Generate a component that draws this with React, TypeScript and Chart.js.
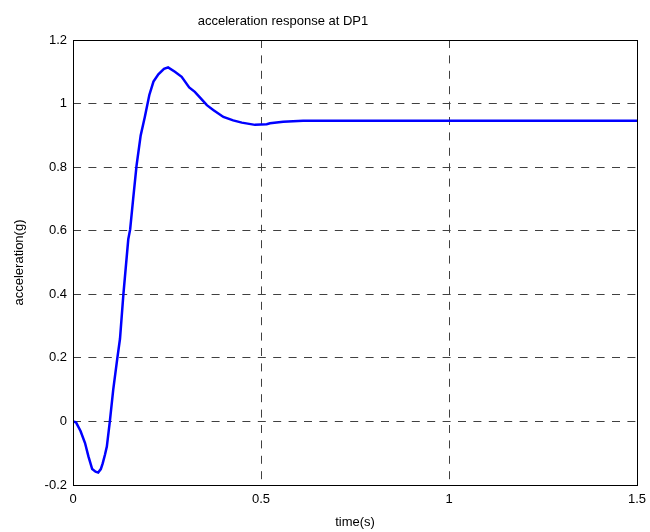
import React, { useEffect, useRef } from "react";
import { Chart, registerables } from "chart.js";

Chart.register(...registerables);

const chartTitle = "acceleration response at DP1";
const xAxisTitle = "time(s)";
const yAxisTitle = "acceleration(g)";

const timeValues = [
  0, 0.008, 0.02, 0.032, 0.041, 0.051, 0.06, 0.067, 0.074, 0.079, 0.085, 0.09,
  0.098, 0.107, 0.118, 0.125, 0.134, 0.147, 0.152, 0.16, 0.169, 0.18, 0.191,
  0.203, 0.214, 0.227, 0.242, 0.253, 0.271, 0.289, 0.309, 0.324, 0.338, 0.356,
  0.373, 0.4, 0.426, 0.449, 0.484, 0.515, 0.524, 0.559, 0.612, 0.7, 0.9, 1.1,
  1.3, 1.5,
];
const accelValues = [
  0, -0.003, -0.03, -0.068, -0.11, -0.15, -0.158, -0.161, -0.15, -0.132,
  -0.105, -0.079, 0, 0.1, 0.2, 0.26, 0.4, 0.573, 0.604, 0.7, 0.805, 0.9,
  0.958, 1.027, 1.069, 1.092, 1.109, 1.114, 1.1, 1.084, 1.051, 1.037, 1.019,
  0.995, 0.98, 0.958, 0.947, 0.94, 0.933, 0.935, 0.938, 0.943, 0.946, 0.946,
  0.946, 0.946, 0.946, 0.946,
];

const xTicks = [0, 0.5, 1, 1.5];
const yTicks = [-0.2, 0, 0.2, 0.4, 0.6, 0.8, 1, 1.2];

const FONT = "Arial, 'Liberation Sans', sans-serif";

export default function App() {
  const canvasRef = useRef<HTMLCanvasElement | null>(null);

  useEffect(() => {
    const canvas = canvasRef.current;
    if (!canvas) return;

    const framePlugin = {
      id: "frameAndTitle",
      afterDraw(chart: any) {
        const { ctx, chartArea } = chart;
        ctx.save();
        ctx.strokeStyle = "#000";
        ctx.lineWidth = 1;
        ctx.setLineDash([]);
        ctx.strokeRect(
          Math.round(chartArea.left) + 0.5,
          Math.round(chartArea.top) + 0.5,
          Math.round(chartArea.right - chartArea.left),
          Math.round(chartArea.bottom - chartArea.top)
        );
        ctx.fillStyle = "#000";
        ctx.font = `13px ${FONT}`;
        ctx.textAlign = "center";
        ctx.textBaseline = "middle";
        ctx.fillText(chartTitle, 283, 21);
        ctx.restore();
      },
    };

    const chart = new Chart(canvas, {
      type: "line",
      data: {
        datasets: [
          {
            data: timeValues.map((t, i) => ({ x: t, y: accelValues[i] })),
            borderColor: "#0000ff",
            borderWidth: 2.5,
            pointRadius: 0,
            tension: 0,
            fill: false,
          },
        ],
      },
      options: {
        animation: false,
        responsive: true,
        maintainAspectRatio: false,
        layout: { padding: { top: 40, right: 13, left: 0, bottom: 0 } },
        plugins: {
          legend: { display: false },
          tooltip: { enabled: false },
          title: { display: false },
        },
        scales: {
          x: {
            type: "linear",
            min: 0,
            max: 1.5,
            afterBuildTicks(scale: any) {
              scale.ticks = xTicks.map((v) => ({ value: v }));
            },
            afterFit(scale: any) {
              scale.height = 47;
              scale.paddingLeft = 0;
              scale.paddingRight = 0;
            },
            grid: {
              color: "#404040",
              lineWidth: 1,
              drawTicks: false,
            },
            border: { display: false, dash: [8, 7.4] },
            ticks: {
              color: "#000",
              font: { family: FONT, size: 13 },
              padding: 7,
              maxRotation: 0,
              callback: (v: any) => String(Math.round(Number(v) * 10) / 10),
            },
            title: {
              display: true,
              text: xAxisTitle,
              color: "#000",
              font: { family: FONT, size: 13 },
              padding: 2,
            },
          },
          y: {
            type: "linear",
            min: -0.2,
            max: 1.2,
            afterBuildTicks(scale: any) {
              scale.ticks = yTicks.map((v) => ({ value: v }));
            },
            afterFit(scale: any) {
              scale.width = 73;
              scale.paddingTop = 0;
              scale.paddingBottom = 0;
            },
            grid: {
              color: "#404040",
              lineWidth: 1,
              drawTicks: false,
            },
            border: { display: false, dash: [8, 7.4] },
            ticks: {
              color: "#000",
              font: { family: FONT, size: 13 },
              padding: 6,
              callback: (v: any) => String(Math.round(Number(v) * 10) / 10),
            },
            title: {
              display: true,
              text: yAxisTitle,
              color: "#000",
              font: { family: FONT, size: 13 },
              padding: 12,
            },
          },
        },
      },
      plugins: [framePlugin],
    });

    return () => chart.destroy();
  }, []);

  return (
    <div
      style={{
        position: "absolute",
        left: 0,
        top: 0,
        width: 650,
        height: 532,
        background: "#fff",
      }}
    >
      <canvas ref={canvasRef} />
    </div>
  );
}
